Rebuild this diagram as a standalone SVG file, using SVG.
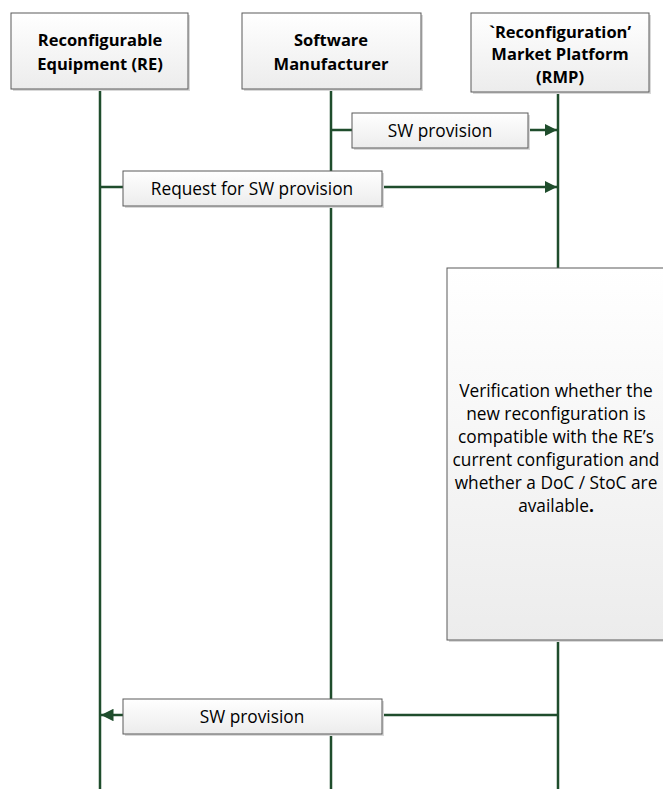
<svg xmlns="http://www.w3.org/2000/svg" width="663" height="789" viewBox="0 0 663 789">
  <defs>
    <linearGradient id="boxFill" x1="0" y1="0" x2="0" y2="1">
      <stop offset="0" stop-color="#ffffff"/>
      <stop offset="1" stop-color="#ececec"/>
    </linearGradient>
    <marker id="arrow" viewBox="0 0 10 10" refX="10" refY="5" markerWidth="5" markerHeight="5" orient="auto-start-reverse" markerUnits="strokeWidth">
      <path d="M0,0 L10,5 L0,10 z" fill="#1f4d2c"/>
    </marker>
    <style>
      .life { stroke: #1f4d2c; stroke-width: 2.5; fill: none; }
      .msg { stroke: #1f4d2c; stroke-width: 2.5; fill: none; }
      .box { fill: url(#boxFill); stroke: #5a5a5a; stroke-width: 1; }
      .shadow { fill: #d9d9d9; }
      .head { font-family: "Open Sans", "Liberation Sans", sans-serif; font-weight: bold; font-size: 16.5px; fill: #000; text-anchor: middle; }
      .lbl { font-family: "Open Sans", "Liberation Sans", sans-serif; font-size: 17.3px; fill: #000; text-anchor: middle; }
    </style>
  </defs>
  <rect width="663" height="789" fill="#ffffff"/>

  <!-- lifelines -->
  <g id="lifelines">
    <line class="life" x1="100" y1="89" x2="100" y2="789"/>
    <line class="life" x1="331" y1="89" x2="331" y2="789"/>
    <line class="life" x1="558" y1="92" x2="558" y2="789"/>
  </g>

  <!-- participants -->
  <g id="re">
    <rect class="shadow" x="13" y="15" width="177" height="76"/>
    <rect class="box" x="11" y="13" width="177" height="76"/>
    <text class="head" x="100" y="46">Reconfigurable</text>
    <text class="head" x="100" y="70">Equipment (RE)</text>
  </g>
  <g id="sm">
    <rect class="shadow" x="244" y="15" width="179" height="76"/>
    <rect class="box" x="242" y="13" width="179" height="76"/>
    <text class="head" x="331" y="46">Software</text>
    <text class="head" x="331" y="70">Manufacturer</text>
  </g>
  <g id="rmp">
    <rect class="shadow" x="473" y="15" width="178" height="79"/>
    <rect class="box" x="471" y="13" width="178" height="79"/>
    <text class="head" x="560" y="38">`Reconfiguration’</text>
    <text class="head" x="560" y="60">Market Platform</text>
    <text class="head" x="560" y="83">(RMP)</text>
  </g>

  <!-- messages -->
  <g id="connectors">
    <line class="msg" x1="331" y1="130" x2="557" y2="130" marker-end="url(#arrow)"/>
    <line class="msg" x1="100" y1="187" x2="557" y2="187" marker-end="url(#arrow)"/>
    <line class="msg" x1="558" y1="715" x2="101" y2="715" marker-end="url(#arrow)"/>
  </g>

  <g id="msg-sw-provision-1">
    <rect class="shadow" x="354" y="115" width="176" height="35"/>
    <rect class="box" x="352" y="113" width="176" height="35"/>
    <text class="lbl" x="440" y="136.5">SW provision</text>
  </g>
  <g id="msg-request">
    <rect class="shadow" x="125" y="173" width="259" height="35"/>
    <rect class="box" x="123" y="171" width="259" height="35"/>
    <text class="lbl" x="252" y="194.5">Request for SW provision</text>
  </g>

  <g id="verification">
    <rect class="shadow" x="449" y="270" width="216" height="372"/>
    <rect class="box" x="447" y="268" width="218" height="372"/>
    <text class="lbl" x="556" y="397">Verification whether the</text>
    <text class="lbl" x="556" y="420">new reconfiguration is</text>
    <text class="lbl" x="556" y="443">compatible with the RE’s</text>
    <text class="lbl" x="556" y="466">current configuration and</text>
    <text class="lbl" x="556" y="489">whether a DoC / StoC are</text>
    <text class="lbl" x="556" y="512">available<tspan font-weight="bold">.</tspan></text>
  </g>

  <g id="msg-sw-provision-2">
    <rect class="shadow" x="125" y="701" width="259" height="35"/>
    <rect class="box" x="123" y="699" width="259" height="35"/>
    <text class="lbl" x="252" y="722.5">SW provision</text>
  </g>
</svg>
